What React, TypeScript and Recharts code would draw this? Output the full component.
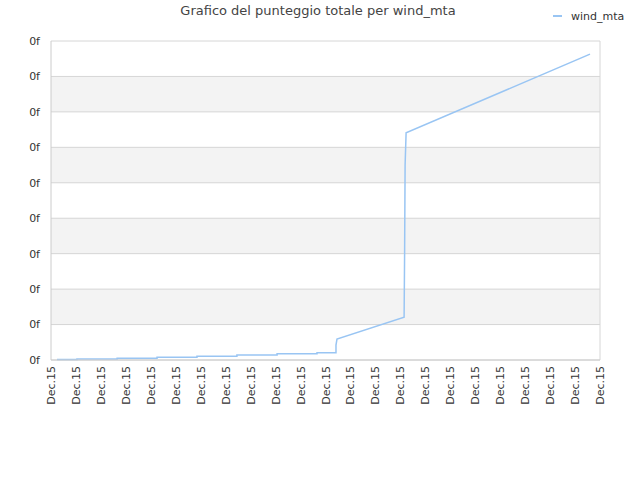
import { LineChart, Line, XAxis, YAxis, CartesianGrid } from 'recharts';

// punti (x in unità di tick, valore in unità di griglia)
const times = [
  0.24, 1.04, 1.04, 2.65, 2.65, 4.25, 4.25, 5.85, 5.85, 7.45, 7.45, 9.06,
  9.06, 10.66, 10.66, 11.42, 11.42, 11.46, 14.15, 14.17, 14.19, 14.23, 21.6,
];
const scores = [
  0.014, 0.014, 0.03, 0.03, 0.05, 0.05, 0.075, 0.075, 0.107, 0.107, 0.141, 0.141,
  0.175, 0.175, 0.206, 0.206, 0.42, 0.59, 1.21, 2.99, 5.5, 6.41, 8.63,
];
const xTicks = Array.from({ length: 23 }, (_, i) => i);
const yTicks = [0, 1, 2, 3, 4, 5, 6, 7, 8, 9];
const xLabel = 'Dec.15';
const yLabel = '0f';

const data = times.map((t, i) => ({ t, wind_mta: scores[i] }));

const FONT = 'DejaVu Sans, sans-serif';

function DateTick(props: any) {
  const { x, y } = props;
  const ty = y - 2;
  return (
    <text
      x={x}
      y={ty}
      dy={4}
      transform={`rotate(-90, ${x}, ${ty})`}
      textAnchor="end"
      fontSize={11}
      fill="#333"
      fontFamily={FONT}
    >
      {xLabel}
    </text>
  );
}

function LegendBox() {
  return (
    <svg width={90} height={20} style={{ position: 'absolute', left: 550, top: 6 }}>
      <line x1={3} y1={10} x2={12} y2={10} stroke="#99c5f3" strokeWidth={2} />
      <text x={21} y={14} fontSize={11} fill="#333" fontFamily={FONT}>
        wind_mta
      </text>
    </svg>
  );
}

export default function App() {
  return (
    <div style={{ position: 'absolute', left: 0, top: 0, width: 640, height: 480, background: '#fff' }}>
      <div
        style={{
          position: 'absolute',
          left: 0,
          top: 3,
          width: 636,
          textAlign: 'center',
          fontFamily: FONT,
          fontSize: 13,
          color: '#444',
        }}
      >
        Grafico del punteggio totale per wind_mta
      </div>
      <LegendBox />
      <LineChart
        width={640}
        height={480}
        data={data}
        margin={{ top: 41, right: 40, bottom: 0, left: 0 }}
      >
        <CartesianGrid
          yAxisId="left"
          stroke="#d6d6d6"
          horizontalFill={['#ffffff', '#f3f3f3']}
          verticalCoordinatesGenerator={({ offset }: any) => [offset.left + offset.width]}
        />
        <XAxis
          dataKey="t"
          type="number"
          domain={[0, 22]}
          ticks={xTicks}
          interval={0}
          tick={<DateTick />}
          tickLine={false}
          axisLine={{ stroke: '#cccccc' }}
          height={120}
        />
        <YAxis
          yAxisId="left"
          type="number"
          domain={[0, 9]}
          ticks={yTicks}
          interval={0}
          tickFormatter={() => yLabel}
          tickLine={false}
          tickSize={6}
          tickMargin={5}
          axisLine={{ stroke: '#cccccc' }}
          tick={{ fontSize: 11, fill: '#333', fontFamily: FONT }}
          width={51}
        />
        <Line
          yAxisId="left"
          type="linear"
          dataKey="wind_mta"
          stroke="#99c5f3"
          strokeWidth={1.5}
          dot={false}
          isAnimationActive={false}
        />
      </LineChart>
    </div>
  );
}
